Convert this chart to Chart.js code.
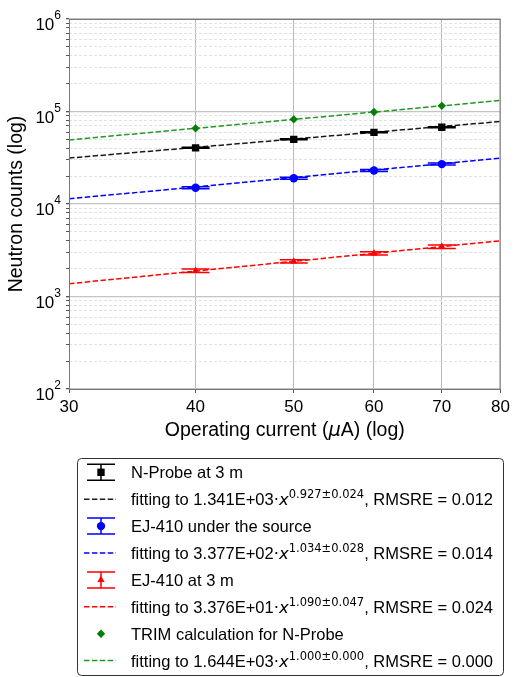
<!DOCTYPE html>
<html>
<head>
<meta charset="utf-8">
<script src="https://cdn.jsdelivr.net/npm/chart.js@4"></script>
<style>
  html, body { margin: 0; padding: 0; background: #fff; }
  #wrap { width: 514px; height: 677px; }
</style>
</head>
<body>
<div id="wrap"><canvas id="neutronChart" width="514" height="677"></canvas></div>
<script>
const currents = [40, 50, 60, 70];
const fitRange = [30, 80];

const nprobeCounts = [40500, 50000, 59500, 67500];
const nprobeErr = [500, 600, 750, 850];
const ejSourceCounts = [15000, 19000, 23000, 27000];
const ejSourceErr = [380, 480, 580, 680];
const ej3mCounts = [1900, 2400, 2930, 3450];
const ej3mErr = [80, 100, 120, 145];
const trimCounts = [65760, 82200, 98640, 115080];

// power-law fits, values at both ends of fitRange
const nprobeFit = [31386, 77896];
const ejSourceFit = [11373, 31357];
const ej3mFit = [1375, 4007];
const trimFit = [49320, 131520];

const xTicks = [30, 40, 50, 60, 70, 80];
const yDecades = [2, 3, 4, 5, 6];

const seriesNames = ['N-Probe at 3 m', 'EJ-410 under the source', 'EJ-410 at 3 m', 'TRIM calculation for N-Probe'];
const fitCoef = ['1.341E+03', '3.377E+02', '3.376E+01', '1.644E+03'];
const fitPow = ['0.927\u00b10.024', '1.034\u00b10.028', '1.090\u00b10.047', '1.000\u00b10.000'];
const fitRmsre = ['0.012', '0.014', '0.024', '0.000'];

const SANS = '"Liberation Sans", Arial, sans-serif';
const MATH = '"DejaVu Sans", sans-serif';
const DASH = [5.5, 2.4];
const CAP = 14;

function pts(xs, ys) {
  return xs.map((x, i) => ({ x: x, y: ys[i] }));
}

function pointSet(label, ys, err, color, style, radius) {
  return {
    label: label, data: pts(currents, ys), errors: err, showLine: false,
    pointStyle: style, pointRadius: radius, pointHoverRadius: radius,
    pointBackgroundColor: color, pointBorderColor: color, pointBorderWidth: 0,
    borderColor: color
  };
}

function fitSet(label, ys, color) {
  return {
    label: label, data: pts(fitRange, ys), showLine: true,
    borderColor: color, borderWidth: 1.5, borderDash: DASH, pointRadius: 0
  };
}

const datasets = [
  pointSet(seriesNames[0], nprobeCounts, nprobeErr, '#000000', 'rect', 5.2),
  fitSet('fit N-Probe', nprobeFit, '#1a1a1a'),
  pointSet(seriesNames[1], ejSourceCounts, ejSourceErr, '#0000ff', 'circle', 4.2),
  fitSet('fit EJ-410 source', ejSourceFit, '#0000ff'),
  pointSet(seriesNames[2], ej3mCounts, ej3mErr, '#ff0000', 'triangle', 4.2),
  fitSet('fit EJ-410 3 m', ej3mFit, '#ff0000'),
  pointSet(seriesNames[3], trimCounts, null, '#008000', 'rectRot', 4.2),
  fitSet('fit TRIM', trimFit, '#229922')
];

function isDecade(c) {
  return !!(c.tick && /^10*$/.test(String(c.tick.value)));
}

// vertical error bars with wide caps, drawn under each point set
const errorBars = {
  id: 'errorBars',
  beforeDatasetDraw(chart, args) {
    const ds = chart.data.datasets[args.index];
    if (!ds.errors) return;
    const x = chart.scales.x, y = chart.scales.y, ctx = chart.ctx;
    ctx.save();
    ctx.strokeStyle = ds.borderColor;
    ctx.lineWidth = 1.5;
    ds.data.forEach((p, i) => {
      const px = x.getPixelForValue(p.x);
      const top = y.getPixelForValue(p.y + ds.errors[i]);
      const bot = y.getPixelForValue(p.y - ds.errors[i]);
      ctx.beginPath();
      ctx.moveTo(px, top); ctx.lineTo(px, bot);
      ctx.moveTo(px - CAP, top); ctx.lineTo(px + CAP, top);
      ctx.moveTo(px - CAP, bot); ctx.lineTo(px + CAP, bot);
      ctx.stroke();
    });
    ctx.restore();
  }
};

function drawRuns(ctx, x, y, runs) {
  runs.forEach(r => {
    ctx.font = r.font;
    ctx.fillText(r.text, x, y - (r.rise || 0));
    x += ctx.measureText(r.text).width;
  });
}

function drawMarker(ctx, ds, x, y) {
  ctx.fillStyle = ds.pointBackgroundColor;
  Chart.helpers.drawPoint(ctx, { pointStyle: ds.pointStyle, radius: ds.pointRadius, rotation: 0, borderWidth: 0 }, x, y);
}

// frame, y tick labels, axis titles and the legend box
const decorations = {
  id: 'decorations',
  afterDraw(chart) {
    const ctx = chart.ctx, a = chart.chartArea, y = chart.scales.y;
    ctx.save();

    ctx.strokeStyle = '#777';
    ctx.lineWidth = 1;
    ctx.strokeRect(a.left + 0.5, a.top + 0.5, a.right - a.left - 1, a.bottom - a.top);

    ctx.fillStyle = '#000';
    ctx.textBaseline = 'alphabetic';
    ctx.textAlign = 'left';
    yDecades.forEach(d => {
      const py = y.getPixelForValue(Math.pow(10, d));
      ctx.font = '17px ' + SANS;
      const wBase = ctx.measureText('10').width;
      ctx.font = '12px ' + SANS;
      const wSup = ctx.measureText(String(d)).width;
      const x0 = a.left - 8 - wBase - wSup;
      drawRuns(ctx, x0, py + 11, [
        { text: '10', font: '17px ' + SANS },
        { text: String(d), font: '12px ' + SANS, rise: 11 }
      ]);
    });

    // x title
    const xRuns = [
      { text: 'Operating current (', font: '19.5px ' + SANS },
      { text: '\u03bc', font: 'italic 19.5px ' + MATH },
      { text: 'A) (log)', font: '19.5px ' + SANS }
    ];
    let w = 0;
    xRuns.forEach(r => { ctx.font = r.font; w += ctx.measureText(r.text).width; });
    drawRuns(ctx, (a.left + a.right) / 2 - w / 2, 436, xRuns);

    // y title
    ctx.save();
    ctx.translate(22, (a.top + a.bottom) / 2);
    ctx.rotate(-Math.PI / 2);
    ctx.textAlign = 'center';
    ctx.font = '19.5px ' + SANS;
    ctx.fillText('Neutron counts (log)', 0, 0);
    ctx.restore();

    // legend
    const bx = 77.5, by = 458.5, bw = 426, bh = 217;
    ctx.beginPath();
    ctx.roundRect(bx, by, bw, bh, 4);
    ctx.fillStyle = '#fff';
    ctx.fill();
    ctx.strokeStyle = '#333';
    ctx.lineWidth = 1;
    ctx.stroke();

    const ds = chart.data.datasets;
    const hx = 101, tx = 131;
    for (let s = 0; s < 4; s++) {
      const pset = ds[s * 2], fset = ds[s * 2 + 1];
      const ry = 472.3 + s * 2 * 26.9;
      const fy = ry + 26.9;

      if (pset.errors) {
        ctx.strokeStyle = pset.borderColor;
        ctx.lineWidth = 1.5;
        ctx.beginPath();
        ctx.moveTo(hx, ry - 8); ctx.lineTo(hx, ry + 8);
        ctx.moveTo(hx - CAP, ry - 8); ctx.lineTo(hx + CAP, ry - 8);
        ctx.moveTo(hx - CAP, ry + 8); ctx.lineTo(hx + CAP, ry + 8);
        ctx.stroke();
      }
      drawMarker(ctx, pset, hx, ry);

      ctx.strokeStyle = fset.borderColor;
      ctx.lineWidth = 1.5;
      ctx.setLineDash(DASH);
      ctx.beginPath();
      ctx.moveTo(84, fy); ctx.lineTo(116, fy);
      ctx.stroke();
      ctx.setLineDash([]);

      ctx.fillStyle = '#000';
      ctx.textAlign = 'left';
      drawRuns(ctx, tx, ry + 6, [{ text: seriesNames[s], font: '16.5px ' + SANS }]);
      drawRuns(ctx, tx, fy + 6, [
        { text: 'fitting to ' + fitCoef[s], font: '16.5px ' + SANS },
        { text: '\u00b7', font: '16.5px ' + MATH },
        { text: 'x', font: 'italic 16.5px ' + MATH },
        { text: fitPow[s], font: '11.5px ' + MATH, rise: 7 },
        { text: ', RMSRE = ' + fitRmsre[s], font: '16.5px ' + SANS }
      ]);
    }
    ctx.restore();
  }
};

new Chart(document.getElementById('neutronChart'), {
  type: 'scatter',
  data: { datasets: datasets },
  plugins: [errorBars, decorations],
  options: {
    responsive: false,
    animation: false,
    events: [],
    layout: { padding: { top: 19, right: 10, left: 0, bottom: 0 } },
    plugins: { legend: { display: false }, tooltip: { enabled: false } },
    scales: {
      x: {
        type: 'logarithmic', min: 30, max: 80,
        afterBuildTicks: s => { s.ticks = xTicks.map(v => ({ value: v })); },
        afterFit: s => { s.height = 288; },
        ticks: {
          autoSkip: false, maxRotation: 0, padding: 4, color: '#000',
          font: { family: SANS, size: 17 },
          callback: v => String(v)
        },
        grid: { color: '#b8b8b8', lineWidth: 1, tickLength: 4, tickColor: '#555' },
        border: { display: false }
      },
      y: {
        type: 'logarithmic', min: 100, max: 1e6,
        afterBuildTicks: s => {
          const t = [];
          yDecades.forEach(d => {
            const base = Math.pow(10, d);
            t.push({ value: base, major: true });
            if (d < 6) for (let m = 2; m <= 9; m++) t.push({ value: m * base });
          });
          s.ticks = t;
        },
        afterFit: s => { s.width = 69; },
        ticks: { display: false },
        grid: {
          color: c => isDecade(c) ? '#c4c4c4' : '#e2e2e2',
          lineWidth: c => isDecade(c) ? 1.3 : 1,
          tickLength: 3, tickColor: '#555'
        },
        border: { display: false, dash: c => isDecade(c) ? [] : [3, 2] }
      }
    }
  }
});
</script>
</body>
</html>
